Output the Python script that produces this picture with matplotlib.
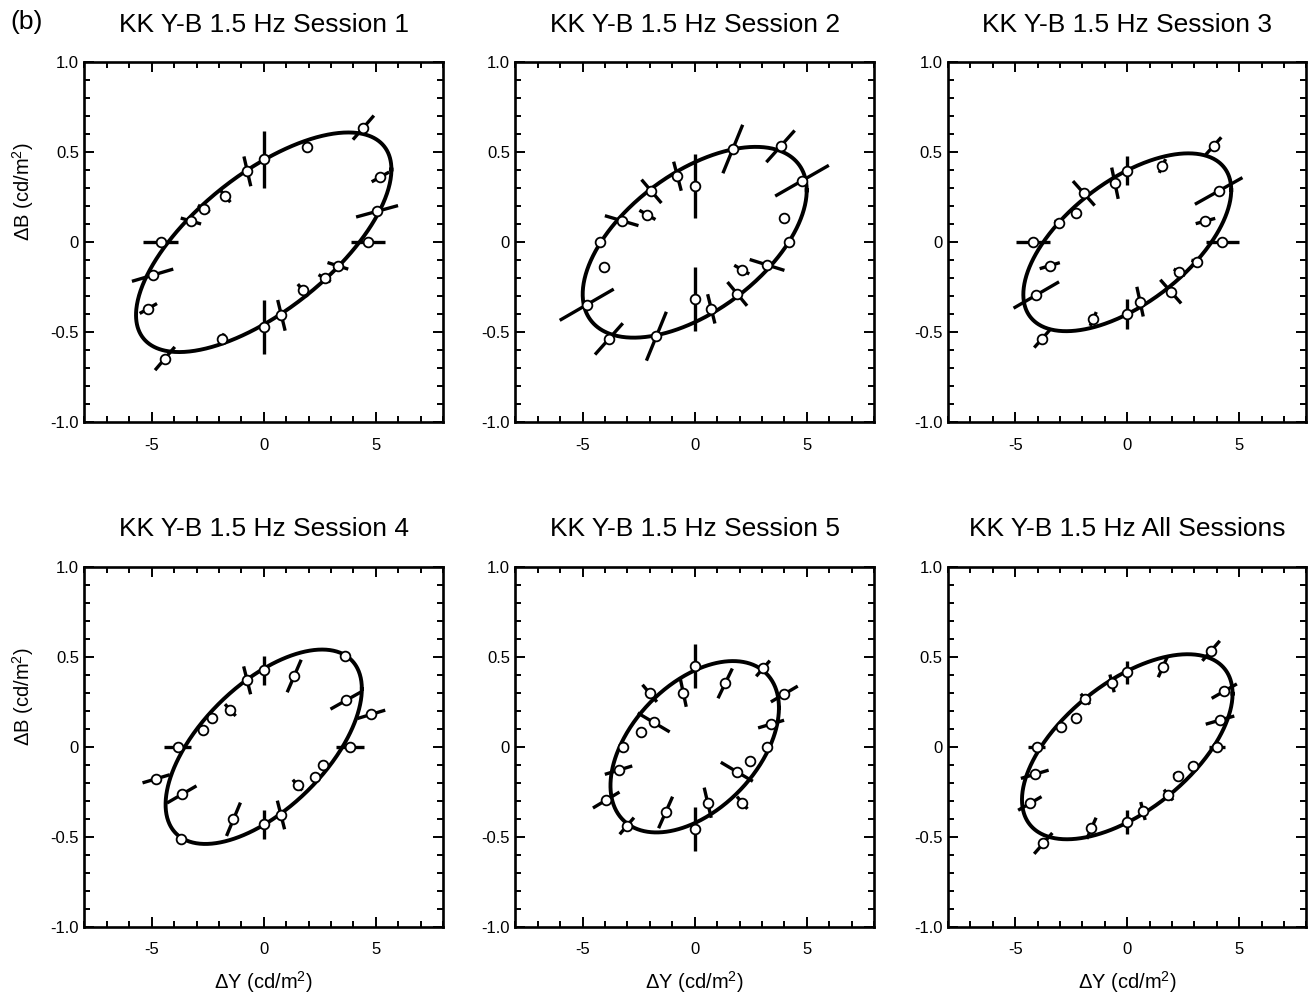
import numpy as np
import matplotlib.pyplot as plt
from matplotlib.ticker import MultipleLocator

plt.rcParams["font.family"] = ["Liberation Sans", "DejaVu Sans"]
plt.rcParams["axes.unicode_minus"] = False
plt.rcParams["mathtext.fontset"] = "custom"
plt.rcParams["mathtext.rm"] = "Liberation Sans"
plt.rcParams["mathtext.it"] = "Liberation Sans"

titles = ["KK Y-B 1.5 Hz Session 1", "KK Y-B 1.5 Hz Session 2", "KK Y-B 1.5 Hz Session 3",
          "KK Y-B 1.5 Hz Session 4", "KK Y-B 1.5 Hz Session 5", "KK Y-B 1.5 Hz All Sessions"]

# fitted ellipse per panel: dY amplitude, dB amplitude, phase lag (deg)
fit_dy = [5.7, 5.0, 4.64, 4.38, 3.76, 4.7]
fit_db = [0.61, 0.53, 0.494, 0.54, 0.476, 0.514]
fit_phase = [48.5, 57.0, 54.0, 53.5, 63.0, 55.0]

# measured points; err = half length of the radial error bar, relative to radius
s1_dy = [4.45, 1.93, 0.0, -0.73, -1.71, -2.67, -3.25, -4.6, -4.96, -5.15,
         -4.41, -1.88, 0.0, 0.79, 1.75, 2.72, 3.31, 4.64, 5.06, 5.21]
s1_db = [0.637, 0.53, 0.461, 0.394, 0.256, 0.187, 0.118, 0.0, -0.183, -0.368,
         -0.646, -0.539, -0.47, -0.406, -0.267, -0.2, -0.131, 0.0, 0.172, 0.363]
s1_err = [0.105, 0.05, 0.34, 0.21, 0.13, 0.10, 0.14, 0.17, 0.186, 0.075,
          0.10, 0.06, 0.32, 0.21, 0.13, 0.10, 0.14, 0.165, 0.185, 0.075]

s2_dy = [3.83, 1.70, 0.0, -0.77, -1.93, -2.11, -3.26, -4.23, -4.03, -4.82,
         -3.83, -1.71, 0.0, 0.74, 1.90, 2.10, 3.23, 4.19, 4.00, 4.79]
s2_db = [0.533, 0.518, 0.315, 0.367, 0.283, 0.152, 0.12, 0.0, -0.139, -0.347,
         -0.537, -0.522, -0.315, -0.37, -0.287, -0.152, -0.126, 0.0, 0.133, 0.342]
s2_err = [0.165, 0.26, 0.565, 0.22, 0.23, 0.17, 0.23, 0.03, 0.04, 0.25,
          0.162, 0.26, 0.57, 0.22, 0.23, 0.16, 0.24, 0.03, 0.03, 0.25]

s3_dy = [3.85, 1.57, 0.0, -0.55, -1.94, -2.30, -3.05, -4.21, -3.46, -4.06,
         -3.81, -1.52, 0.0, 0.57, 1.94, 2.33, 3.11, 4.24, 3.49, 4.08]
s3_db = [0.535, 0.424, 0.398, 0.328, 0.272, 0.161, 0.109, 0.0, -0.13, -0.293,
         -0.537, -0.426, -0.398, -0.33, -0.274, -0.167, -0.108, 0.0, 0.118, 0.285]
s3_err = [0.09, 0.09, 0.2, 0.265, 0.25, 0.1, 0.07, 0.18, 0.13, 0.25,
          0.09, 0.09, 0.21, 0.25, 0.24, 0.11, 0.08, 0.175, 0.125, 0.26]

s4_dy = [3.62, 1.36, 0.0, -0.74, -1.49, -2.29, -2.70, -3.84, -4.80, -3.66,
         -3.69, -1.35, 0.0, 0.77, 1.51, 2.27, 2.66, 3.84, 4.80, 3.68]
s4_db = [0.504, 0.393, 0.426, 0.369, 0.204, 0.161, 0.093, 0.0, -0.178, -0.265,
         -0.511, -0.403, -0.431, -0.379, -0.213, -0.168, -0.103, 0.0, 0.18, 0.258]
s4_err = [0.02, 0.23, 0.19, 0.21, 0.16, 0.03, 0.03, 0.16, 0.127, 0.18,
          0.02, 0.23, 0.19, 0.21, 0.14, 0.03, 0.03, 0.16, 0.13, 0.19]

s5_dy = [3.05, 1.36, 0.0, -0.51, -2.01, -1.83, -2.40, -3.18, -3.40, -3.95,
         -3.03, -1.30, 0.0, 0.58, 2.12, 1.88, 2.46, 3.22, 3.41, 4.00]
s5_db = [0.435, 0.352, 0.45, 0.30, 0.297, 0.135, 0.083, 0.0, -0.13, -0.296,
         -0.44, -0.365, -0.457, -0.311, -0.311, -0.139, -0.08, 0.0, 0.126, 0.293]
s5_err = [0.1, 0.235, 0.27, 0.26, 0.16, 0.39, 0.02, 0.03, 0.18, 0.15,
          0.105, 0.24, 0.27, 0.27, 0.11, 0.38, 0.02, 0.03, 0.17, 0.15]

all_dy = [3.74, 1.59, 0.0, -0.68, -1.87, -2.27, -2.97, -4.05, -4.13, -4.35,
          -3.75, -1.60, 0.0, 0.70, 1.84, 2.25, 2.95, 4.00, 4.14, 4.33]
all_db = [0.533, 0.444, 0.413, 0.352, 0.265, 0.161, 0.108, 0.0, -0.153, -0.315,
          -0.537, -0.453, -0.417, -0.357, -0.268, -0.163, -0.107, 0.0, 0.148, 0.309]
all_err = [0.104, 0.13, 0.16, 0.14, 0.11, 0.085, 0.02, 0.09, 0.15, 0.12,
           0.108, 0.13, 0.16, 0.14, 0.11, 0.085, 0.02, 0.09, 0.154, 0.13]

panels = [(s1_dy, s1_db, s1_err), (s2_dy, s2_db, s2_err), (s3_dy, s3_db, s3_err),
          (s4_dy, s4_db, s4_err), (s5_dy, s5_db, s5_err), (all_dy, all_db, all_err)]

fig = plt.figure(figsize=(13.12, 9.98), dpi=100)

lefts = [0.0644, 0.3929, 0.7226]
bottoms = [0.5769, 0.0714]
w, h = 0.2732, 0.3607

t = np.linspace(0, 2 * np.pi, 500)

for i, (dy, db, err) in enumerate(panels):
    row, col = divmod(i, 3)
    ax = fig.add_axes([lefts[col], bottoms[row], w, h])

    # fitted ellipse
    ph = np.deg2rad(fit_phase[i])
    ax.plot(fit_dy[i] * np.cos(t), fit_db[i] * np.cos(t - ph), color="black", lw=2.8, zorder=2)

    # radial error bars through each point
    dy = np.array(dy)
    db = np.array(db)
    err = np.array(err)
    for x, y, e in zip(dy, db, err):
        ax.plot([x * (1 - e), x * (1 + e)], [y * (1 - e), y * (1 + e)],
                color="black", lw=2.4, solid_capstyle="butt", zorder=3)
    ax.plot(dy, db, "o", ms=7, mfc="white", mec="black", mew=1.3, zorder=4)

    ax.set_xlim(-8, 8)
    ax.set_ylim(-1, 1)
    ax.xaxis.set_minor_locator(MultipleLocator(1))
    ax.yaxis.set_minor_locator(MultipleLocator(0.1))
    ax.set_yticks([-1, -0.5, 0, 0.5, 1])
    ax.set_yticklabels(["-1.0", "-0.5", "0", "0.5", "1.0"])
    ax.set_xticks([-5, 0, 5])
    ax.set_xticklabels(["-5", "0", "5"])
    ax.tick_params(which="both", direction="in", top=True, right=True, width=1.4, labelsize=12)
    ax.tick_params(which="major", length=7.5)
    ax.tick_params(which="minor", length=4.5)
    ax.tick_params(axis="x", pad=11)
    ax.tick_params(axis="y", pad=4)
    for sp in ax.spines.values():
        sp.set_linewidth(1.9)

    ax.set_title(titles[i], fontsize=19, pad=22)
    if col == 0:
        ax.set_ylabel(r"ΔB (cd/m$^2$)", fontsize=14.5)
        ax.yaxis.set_label_coords(-0.135, 0.64)
    if row == 1:
        ax.set_xlabel(r"ΔY (cd/m$^2$)", fontsize=14.5, labelpad=9)

fig.text(0.008, 0.978, "(b)", fontsize=19, ha="left", va="center")

fig.savefig("out.png", dpi=100)
